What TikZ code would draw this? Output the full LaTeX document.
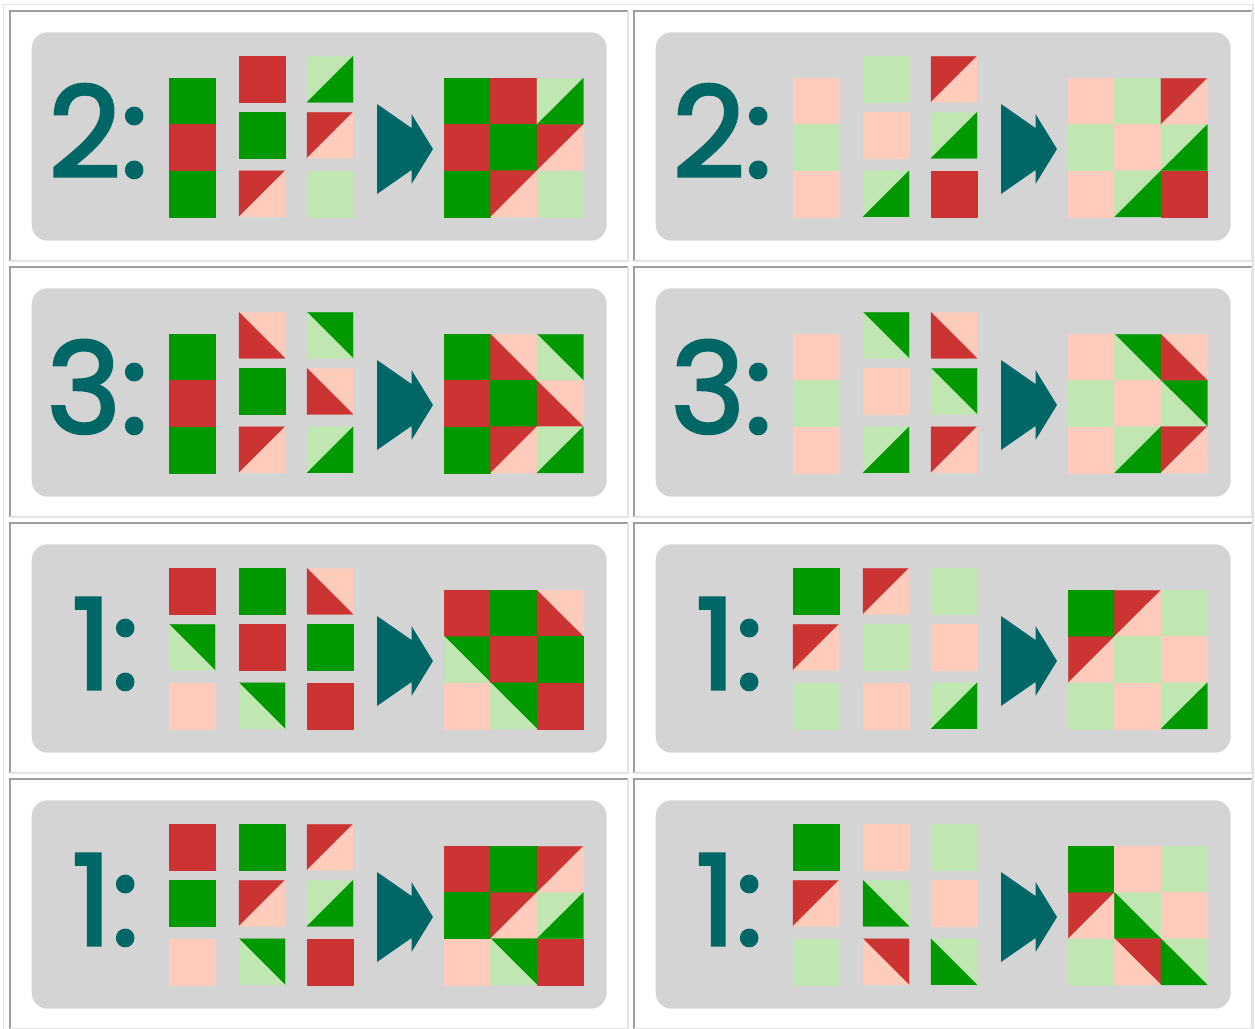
\documentclass[tikz,border=0pt]{standalone}
\usepackage{fontspec}
\newfontfamily\numfont{Poppins}[FakeBold=2.5]

\definecolor{gr}{RGB}{0,153,0}
\definecolor{rd}{RGB}{204,51,51}
\definecolor{pk}{RGB}{255,204,187}
\definecolor{mt}{RGB}{192,230,178}
\definecolor{cardgrey}{RGB}{212,212,212}
\definecolor{quiltteal}{RGB}{0,102,102}
\definecolor{framedark}{RGB}{158,158,158}
\definecolor{framelite}{RGB}{228,228,228}

% one square patch: x, y, width, height, colour, colour
\newcommand{\tilef}[6]{\path[patch=#5] (#1,#2) rectangle ++(#3,#4);}
% seam "/" : #5 upper left, #6 lower right
\newcommand{\tilea}[6]{%
  \path[patch=#5] (#1,#2) -- ++(#3,0) -- ++(-#3,#4) -- cycle;
  \path[patch=#6] (#1,#2) ++(#3,0) -- ++(0,#4) -- ++(-#3,0) -- cycle;}
% seam "\" : #5 upper right, #6 lower left
\newcommand{\tileb}[6]{%
  \path[patch=#5] (#1,#2) -- ++(#3,0) -- ++(0,#4) -- cycle;
  \path[patch=#6] (#1,#2) -- ++(0,#4) -- ++(#3,0) -- cycle;}

% patches of one card: loose columns on the left, sewn block on the right
\newcommand{\quilt}[2]{%
  \foreach \cc/\rr/\kind/\fa/\fb in {#2}{
    \pgfmathsetmacro\tx{{169,239,307}[\cc-1]}
    \pgfmathsetmacro\ty{{56.3,112.4,170.8}[\rr-1]}
    \def\th{46}
    \ifnum#1=1 \ifnum\cc=1
      \pgfmathsetmacro\ty{78.3+46.2*(\rr-1)}
      \def\th{46.2}
    \fi\fi
    \csname tile\kind\endcsname{\tx}{\ty}{46}{\th}{\fa}{\fb}
    \pgfmathsetmacro\gx{444.3+46.33*(\cc-1)}
    \pgfmathsetmacro\gy{78.3+46.2*(\rr-1)}
    \csname tile\kind\endcsname{\gx}{\gy}{46.33}{46.2}{\fa}{\fb}
  }}

% name, shift x, shift y, number, its right end, first column as one strip, patches
\newcommand{\quiltpanel}[7]{%
  \begin{scope}[shift={(#2,#3)}]
    % table cell
    \draw[framedark, line width=1.3pt] (10,261) -- (10,11) -- (628,11);
    \draw[framelite, line width=1.3pt] (628,11) -- (628,261) -- (10,261);
    % grey card
    \fill[cardgrey, rounded corners=16pt] (31.7,32.3) rectangle (606.7,240.7);
    \node[numlabel] (#1) at (#5,177) {#4};
    % double arrow head
    \fill[quiltteal] (377,104) -- (411.5,128) -- (411.5,114) -- (433,149)
      -- (411.5,184) -- (411.5,170) -- (377,194) -- cycle;
    \quilt{#6}{#7}
  \end{scope}}

\begin{document}
\begin{tikzpicture}[x=1pt, y=-1pt,
    patch/.style={fill=#1, draw=#1, line width=0.3pt, line join=round},
    numlabel/.style={text=quiltteal, inner sep=0pt, anchor=base east,
      font=\numfont\fontsize{126}{126}\selectfont}]
  \useasboundingbox (0,0) rectangle (1255,1028);
  % outer table frame
  \draw[framelite, line width=1.3pt] (3.3,1030) -- (3.3,4.7) -- (1253,4.7) -- (1253,1030);

  \quiltpanel{num1}{0}{0}{2:}{148}{1}{1/1/f/gr/gr, 1/2/f/rd/rd, 1/3/f/gr/gr,
    2/1/f/rd/rd, 2/2/f/gr/gr, 2/3/a/rd/pk,
    3/1/a/mt/gr, 3/2/a/rd/pk, 3/3/f/mt/mt}
  \quiltpanel{num2}{624}{0}{2:}{148}{1}{1/1/f/pk/pk, 1/2/f/mt/mt, 1/3/f/pk/pk,
    2/1/f/mt/mt, 2/2/f/pk/pk, 2/3/a/mt/gr,
    3/1/a/rd/pk, 3/2/a/mt/gr, 3/3/f/rd/rd}
  \quiltpanel{num3}{0}{256}{3:}{148}{1}{1/1/f/gr/gr, 1/2/f/rd/rd, 1/3/f/gr/gr,
    2/1/b/pk/rd, 2/2/f/gr/gr, 2/3/a/rd/pk,
    3/1/b/gr/mt, 3/2/b/pk/rd, 3/3/a/mt/gr}
  \quiltpanel{num4}{624}{256}{3:}{148}{1}{1/1/f/pk/pk, 1/2/f/mt/mt, 1/3/f/pk/pk,
    2/1/b/gr/mt, 2/2/f/pk/pk, 2/3/a/mt/gr,
    3/1/b/pk/rd, 3/2/b/gr/mt, 3/3/a/rd/pk}
  \quiltpanel{num5}{0}{512}{1:}{139}{0}{1/1/f/rd/rd, 1/2/b/gr/mt, 1/3/f/pk/pk,
    2/1/f/gr/gr, 2/2/f/rd/rd, 2/3/b/gr/mt,
    3/1/b/pk/rd, 3/2/f/gr/gr, 3/3/f/rd/rd}
  \quiltpanel{num6}{624}{512}{1:}{139}{0}{1/1/f/gr/gr, 1/2/a/rd/pk, 1/3/f/mt/mt,
    2/1/a/rd/pk, 2/2/f/mt/mt, 2/3/f/pk/pk,
    3/1/f/mt/mt, 3/2/f/pk/pk, 3/3/a/mt/gr}
  \quiltpanel{num7}{0}{768}{1:}{139}{0}{1/1/f/rd/rd, 1/2/f/gr/gr, 1/3/f/pk/pk,
    2/1/f/gr/gr, 2/2/a/rd/pk, 2/3/b/gr/mt,
    3/1/a/rd/pk, 3/2/a/mt/gr, 3/3/f/rd/rd}
  \quiltpanel{num8}{624}{768}{1:}{139}{0}{1/1/f/gr/gr, 1/2/a/rd/pk, 1/3/f/mt/mt,
    2/1/f/pk/pk, 2/2/b/mt/gr, 2/3/b/rd/pk,
    3/1/f/mt/mt, 3/2/f/pk/pk, 3/3/b/mt/gr}
\end{tikzpicture}
\end{document}
